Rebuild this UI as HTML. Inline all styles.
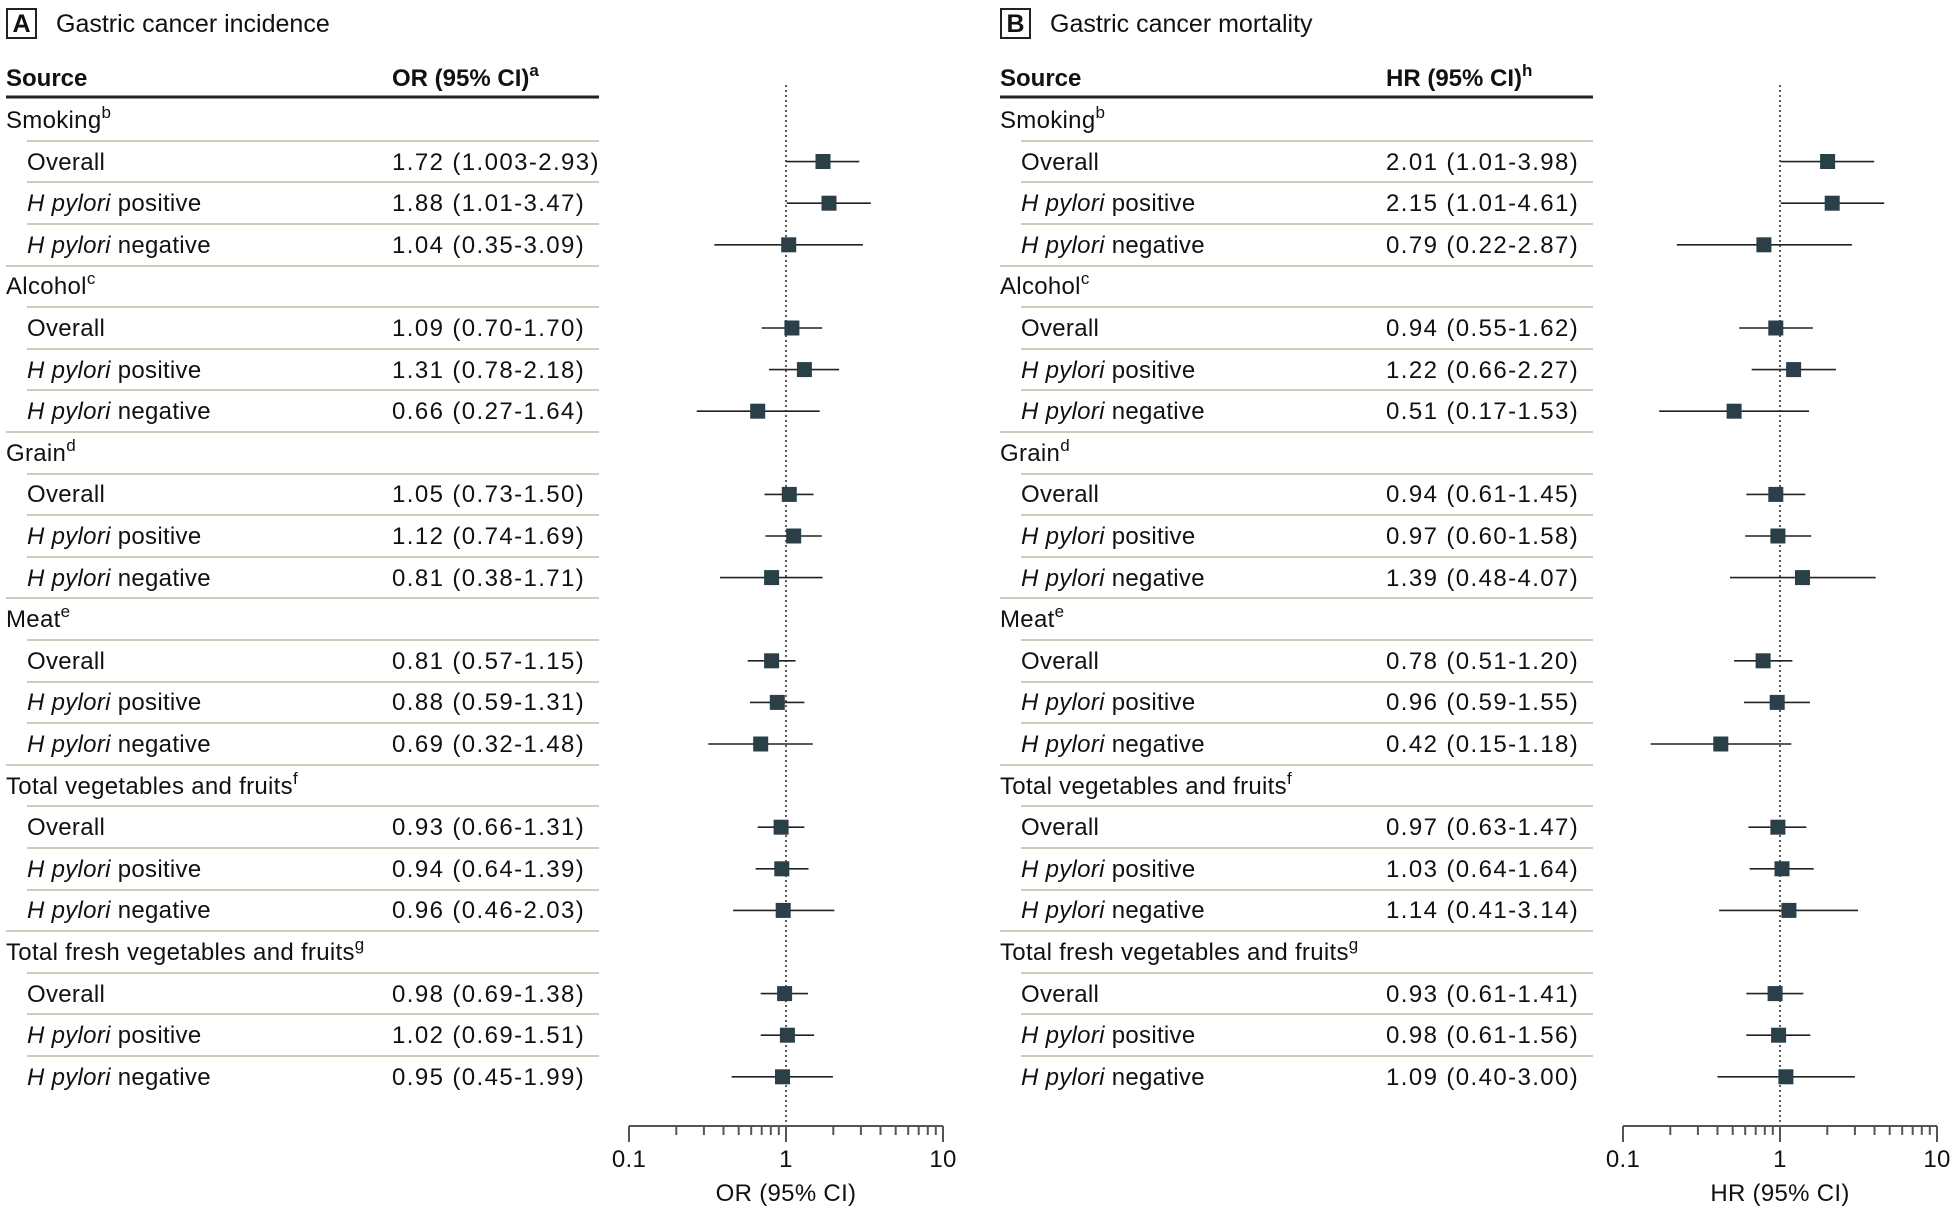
<!DOCTYPE html>
<html><head><meta charset="utf-8"><style>
html,body{margin:0;padding:0;background:#fff;}
svg{display:block;font-family:"Liberation Sans",sans-serif;fill:#111;}
.t{font-size:24px;letter-spacing:0.3px;}
.v{font-size:24px;letter-spacing:1.4px;}
.h{font-size:24px;font-weight:bold;}
.ti{font-size:25px;}
.s{font-size:17px;}
.sep{stroke:#cfcbbd;stroke-width:2;}
.ci{stroke:#222;stroke-width:1.6;}
.m{fill:#2a3f47;}
.ax{stroke:#555;stroke-width:2;fill:none;}
</style></head><body>
<svg width="1956" height="1213" viewBox="0 0 1956 1213" xmlns="http://www.w3.org/2000/svg">
<defs>
<g id="frame">
<line x1="6" y1="97" x2="599" y2="97" stroke="#222" stroke-width="3"/>
<g class="sep">
<line x1="27" y1="141" x2="599" y2="141"/><line x1="27" y1="182" x2="599" y2="182"/><line x1="27" y1="224" x2="599" y2="224"/><line x1="6" y1="266" x2="599" y2="266"/>
<line x1="27" y1="307" x2="599" y2="307"/><line x1="27" y1="349" x2="599" y2="349"/><line x1="27" y1="390" x2="599" y2="390"/><line x1="6" y1="432" x2="599" y2="432"/>
<line x1="27" y1="474" x2="599" y2="474"/><line x1="27" y1="515" x2="599" y2="515"/><line x1="27" y1="557" x2="599" y2="557"/><line x1="6" y1="598" x2="599" y2="598"/>
<line x1="27" y1="640" x2="599" y2="640"/><line x1="27" y1="682" x2="599" y2="682"/><line x1="27" y1="723" x2="599" y2="723"/><line x1="6" y1="765" x2="599" y2="765"/>
<line x1="27" y1="806" x2="599" y2="806"/><line x1="27" y1="848" x2="599" y2="848"/><line x1="27" y1="890" x2="599" y2="890"/><line x1="6" y1="931" x2="599" y2="931"/>
<line x1="27" y1="973" x2="599" y2="973"/><line x1="27" y1="1014" x2="599" y2="1014"/><line x1="27" y1="1056" x2="599" y2="1056"/>
</g>
<g class="t">
<text x="6" y="128">Smoking<tspan class="s" dy="-10">b</tspan></text>
<text x="6" y="294">Alcohol<tspan class="s" dy="-10">c</tspan></text>
<text x="6" y="461">Grain<tspan class="s" dy="-10">d</tspan></text>
<text x="6" y="627">Meat<tspan class="s" dy="-10">e</tspan></text>
<text x="6" y="794">Total vegetables and fruits<tspan class="s" dy="-10">f</tspan></text>
<text x="6" y="960">Total fresh vegetables and fruits<tspan class="s" dy="-10">g</tspan></text>
<text x="27" y="170">Overall</text><text x="27" y="211"><tspan font-style="italic">H pylori</tspan> positive</text><text x="27" y="253"><tspan font-style="italic">H pylori</tspan> negative</text>
<text x="27" y="336">Overall</text><text x="27" y="378"><tspan font-style="italic">H pylori</tspan> positive</text><text x="27" y="419"><tspan font-style="italic">H pylori</tspan> negative</text>
<text x="27" y="502">Overall</text><text x="27" y="544"><tspan font-style="italic">H pylori</tspan> positive</text><text x="27" y="586"><tspan font-style="italic">H pylori</tspan> negative</text>
<text x="27" y="669">Overall</text><text x="27" y="710"><tspan font-style="italic">H pylori</tspan> positive</text><text x="27" y="752"><tspan font-style="italic">H pylori</tspan> negative</text>
<text x="27" y="835">Overall</text><text x="27" y="877"><tspan font-style="italic">H pylori</tspan> positive</text><text x="27" y="918"><tspan font-style="italic">H pylori</tspan> negative</text>
<text x="27" y="1002">Overall</text><text x="27" y="1043"><tspan font-style="italic">H pylori</tspan> positive</text><text x="27" y="1085"><tspan font-style="italic">H pylori</tspan> negative</text>
</g>
<line x1="786" y1="85" x2="786" y2="1126" stroke="#333" stroke-width="1.6" stroke-dasharray="2,3"/>
<path class="ax" d="M629 1126H943M629 1126v16M676.3 1126v9M703.9 1126v9M723.5 1126v9M738.7 1126v9M751.2 1126v9M761.7 1126v9M770.8 1126v9M778.8 1126v9M786 1126v16M833.3 1126v9M860.9 1126v9M880.5 1126v9M895.7 1126v9M908.2 1126v9M918.7 1126v9M927.8 1126v9M935.8 1126v9M943 1126v16"/>
<g class="t" text-anchor="middle"><text x="629" y="1167">0.1</text><text x="786" y="1167">1</text><text x="943" y="1167">10</text></g>
</g>
</defs>

<!-- Panel A -->
<rect x="7" y="9" width="29" height="29" fill="none" stroke="#222" stroke-width="2"/>
<text x="21.5" y="32" class="ti" text-anchor="middle" font-weight="bold">A</text>
<text x="56" y="32" class="ti">Gastric cancer incidence</text>
<text x="6" y="86" class="h">Source</text>
<text x="392" y="86" class="h">OR (95% CI)<tspan class="s" dy="-10">a</tspan></text>
<use href="#frame"/>
<text x="786" y="1201" class="t" text-anchor="middle">OR (95% CI)</text>
<g class="v">
<text x="392" y="170">1.72 (1.003-2.93)</text><text x="392" y="211">1.88 (1.01-3.47)</text><text x="392" y="253">1.04 (0.35-3.09)</text>
<text x="392" y="336">1.09 (0.70-1.70)</text><text x="392" y="378">1.31 (0.78-2.18)</text><text x="392" y="419">0.66 (0.27-1.64)</text>
<text x="392" y="502">1.05 (0.73-1.50)</text><text x="392" y="544">1.12 (0.74-1.69)</text><text x="392" y="586">0.81 (0.38-1.71)</text>
<text x="392" y="669">0.81 (0.57-1.15)</text><text x="392" y="710">0.88 (0.59-1.31)</text><text x="392" y="752">0.69 (0.32-1.48)</text>
<text x="392" y="835">0.93 (0.66-1.31)</text><text x="392" y="877">0.94 (0.64-1.39)</text><text x="392" y="918">0.96 (0.46-2.03)</text>
<text x="392" y="1002">0.98 (0.69-1.38)</text><text x="392" y="1043">1.02 (0.69-1.51)</text><text x="392" y="1085">0.95 (0.45-1.99)</text>
</g>
<g class="ci">
<line x1="786.2" y1="161.6" x2="859.3" y2="161.6"/><line x1="786.7" y1="203.2" x2="870.8" y2="203.2"/><line x1="714.4" y1="244.8" x2="862.9" y2="244.8"/>
<line x1="761.7" y1="328" x2="822.2" y2="328"/><line x1="769.1" y1="369.6" x2="839.1" y2="369.6"/><line x1="696.7" y1="411.2" x2="819.7" y2="411.2"/>
<line x1="764.5" y1="494.4" x2="813.6" y2="494.4"/><line x1="765.5" y1="536" x2="821.8" y2="536"/><line x1="720" y1="577.6" x2="822.6" y2="577.6"/>
<line x1="747.7" y1="660.8" x2="795.5" y2="660.8"/><line x1="750" y1="702.4" x2="804.4" y2="702.4"/><line x1="708.3" y1="744" x2="812.7" y2="744"/>
<line x1="757.7" y1="827.2" x2="804.4" y2="827.2"/><line x1="755.6" y1="868.8" x2="808.5" y2="868.8"/><line x1="733.1" y1="910.4" x2="834.3" y2="910.4"/>
<line x1="760.7" y1="993.6" x2="808" y2="993.6"/><line x1="760.7" y1="1035.2" x2="814.1" y2="1035.2"/><line x1="731.6" y1="1076.8" x2="832.9" y2="1076.8"/>
</g>
<g class="m">
<rect x="815.5" y="154" width="15" height="15"/><rect x="821.5" y="195.7" width="15" height="15"/><rect x="781.2" y="237.3" width="15" height="15"/>
<rect x="784.4" y="320.5" width="15" height="15"/><rect x="796.9" y="362.1" width="15" height="15"/><rect x="750.2" y="403.7" width="15" height="15"/>
<rect x="781.8" y="486.9" width="15" height="15"/><rect x="786.2" y="528.5" width="15" height="15"/><rect x="764.1" y="570.1" width="15" height="15"/>
<rect x="764.1" y="653.3" width="15" height="15"/><rect x="769.8" y="694.9" width="15" height="15"/><rect x="753.2" y="736.5" width="15" height="15"/>
<rect x="773.6" y="819.7" width="15" height="15"/><rect x="774.3" y="861.3" width="15" height="15"/><rect x="775.7" y="902.9" width="15" height="15"/>
<rect x="777.1" y="986.1" width="15" height="15"/><rect x="779.9" y="1027.7" width="15" height="15"/><rect x="775" y="1069.3" width="15" height="15"/>
</g>

<!-- Panel B -->
<g transform="translate(994,0)">
<rect x="7" y="9" width="29" height="29" fill="none" stroke="#222" stroke-width="2"/>
<text x="21.5" y="32" class="ti" text-anchor="middle" font-weight="bold">B</text>
<text x="56" y="32" class="ti">Gastric cancer mortality</text>
<text x="6" y="86" class="h">Source</text>
<text x="392" y="86" class="h">HR (95% CI)<tspan class="s" dy="-10">h</tspan></text>
<use href="#frame"/>
<text x="786" y="1201" class="t" text-anchor="middle">HR (95% CI)</text>
<g class="v">
<text x="392" y="170">2.01 (1.01-3.98)</text><text x="392" y="211">2.15 (1.01-4.61)</text><text x="392" y="253">0.79 (0.22-2.87)</text>
<text x="392" y="336">0.94 (0.55-1.62)</text><text x="392" y="378">1.22 (0.66-2.27)</text><text x="392" y="419">0.51 (0.17-1.53)</text>
<text x="392" y="502">0.94 (0.61-1.45)</text><text x="392" y="544">0.97 (0.60-1.58)</text><text x="392" y="586">1.39 (0.48-4.07)</text>
<text x="392" y="669">0.78 (0.51-1.20)</text><text x="392" y="710">0.96 (0.59-1.55)</text><text x="392" y="752">0.42 (0.15-1.18)</text>
<text x="392" y="835">0.97 (0.63-1.47)</text><text x="392" y="877">1.03 (0.64-1.64)</text><text x="392" y="918">1.14 (0.41-3.14)</text>
<text x="392" y="1002">0.93 (0.61-1.41)</text><text x="392" y="1043">0.98 (0.61-1.56)</text><text x="392" y="1085">1.09 (0.40-3.00)</text>
</g>
<g class="ci">
<line x1="786.7" y1="161.6" x2="880.2" y2="161.6"/><line x1="786.7" y1="203.2" x2="890.2" y2="203.2"/><line x1="682.8" y1="244.8" x2="857.9" y2="244.8"/>
<line x1="745.2" y1="328" x2="818.9" y2="328"/><line x1="757.7" y1="369.6" x2="841.9" y2="369.6"/><line x1="665.2" y1="411.2" x2="815" y2="411.2"/>
<line x1="752.3" y1="494.4" x2="811.3" y2="494.4"/><line x1="751.2" y1="536" x2="817.2" y2="536"/><line x1="736" y1="577.6" x2="881.7" y2="577.6"/>
<line x1="740.1" y1="660.8" x2="798.4" y2="660.8"/><line x1="750" y1="702.4" x2="815.9" y2="702.4"/><line x1="656.6" y1="744" x2="797.3" y2="744"/>
<line x1="754.5" y1="827.2" x2="812.3" y2="827.2"/><line x1="755.6" y1="868.8" x2="819.7" y2="868.8"/><line x1="725.2" y1="910.4" x2="864" y2="910.4"/>
<line x1="752.3" y1="993.6" x2="809.4" y2="993.6"/><line x1="752.3" y1="1035.2" x2="816.3" y2="1035.2"/><line x1="723.5" y1="1076.8" x2="860.9" y2="1076.8"/>
</g>
<g class="m">
<rect x="826.1" y="154" width="15" height="15"/><rect x="830.7" y="195.7" width="15" height="15"/><rect x="762.4" y="237.3" width="15" height="15"/>
<rect x="774.3" y="320.5" width="15" height="15"/><rect x="792.1" y="362.1" width="15" height="15"/><rect x="732.6" y="403.7" width="15" height="15"/>
<rect x="774.3" y="486.9" width="15" height="15"/><rect x="776.4" y="528.5" width="15" height="15"/><rect x="801" y="570.1" width="15" height="15"/>
<rect x="761.6" y="653.3" width="15" height="15"/><rect x="775.7" y="694.9" width="15" height="15"/><rect x="719.3" y="736.5" width="15" height="15"/>
<rect x="776.4" y="819.7" width="15" height="15"/><rect x="780.5" y="861.3" width="15" height="15"/><rect x="787.4" y="902.9" width="15" height="15"/>
<rect x="773.6" y="986.1" width="15" height="15"/><rect x="777.1" y="1027.7" width="15" height="15"/><rect x="784.4" y="1069.3" width="15" height="15"/>
</g>
</g>
</svg>
</body></html>
